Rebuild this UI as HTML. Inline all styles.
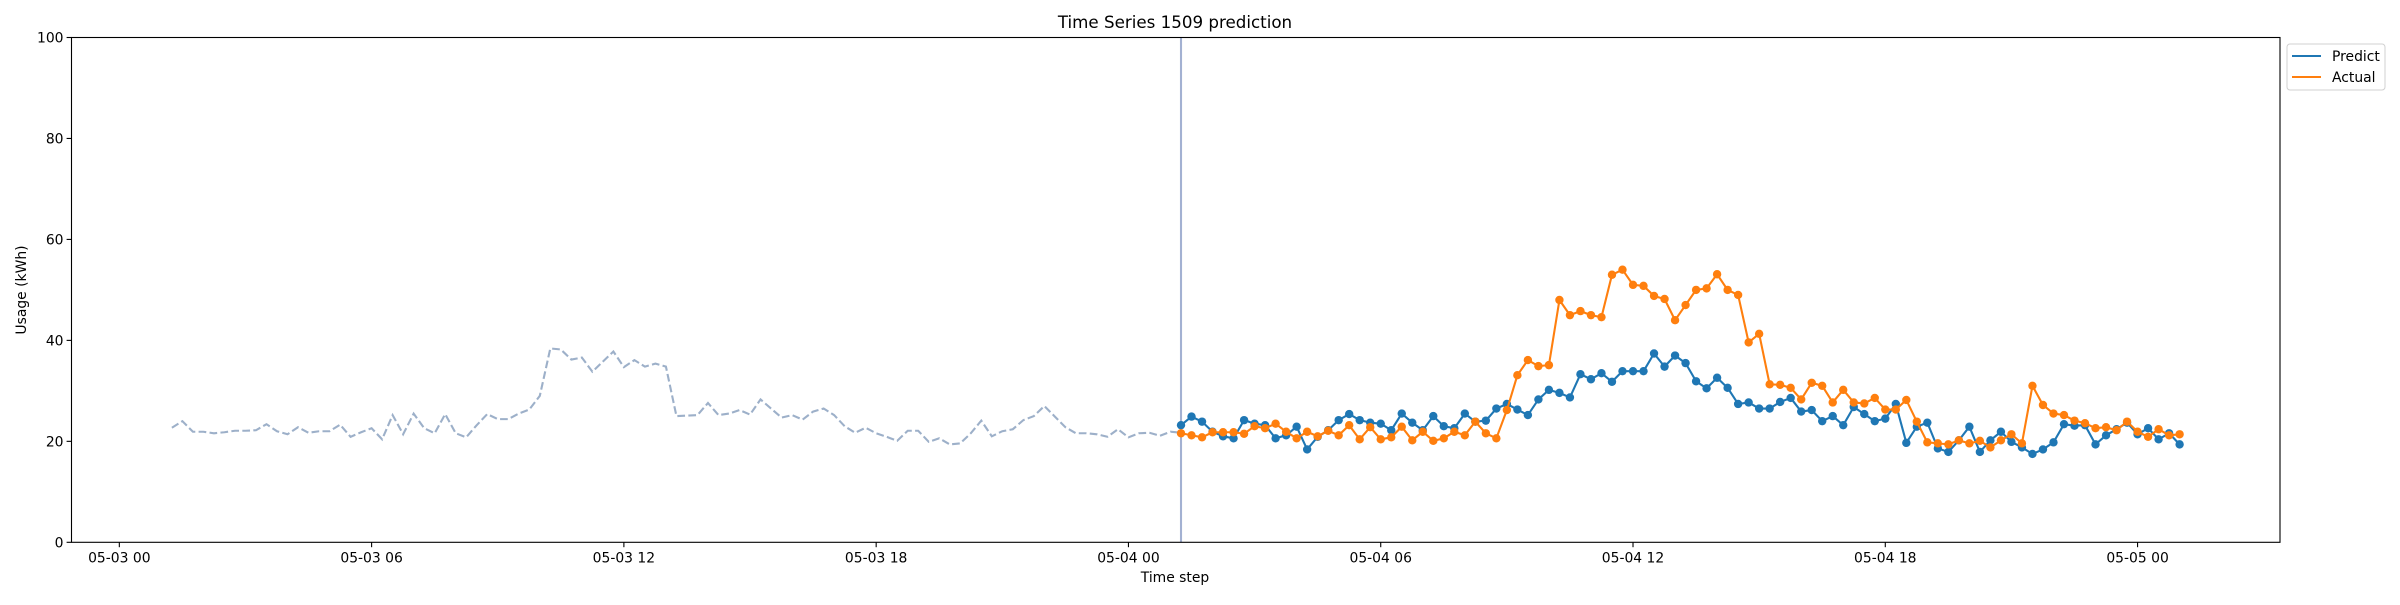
<!DOCTYPE html>
<html><head><meta charset="utf-8"><style>
html,body{margin:0;padding:0;background:#fff;}
svg text{font-family:"DejaVu Sans","Liberation Sans",sans-serif;fill:#000;}
</style></head><body>
<svg id="chart" width="2400" height="600" xmlns="http://www.w3.org/2000/svg">
<rect x="0" y="0" width="2400" height="600" fill="#fff"/>
<text x="1175" y="28" font-size="16.7" text-anchor="middle">Time Series 1509 prediction</text>
<text x="1175" y="582" font-size="13.9" text-anchor="middle">Time step</text>
<text x="26" y="290" font-size="13.9" text-anchor="middle" transform="rotate(-90 26 290)">Usage (kWh)</text>
<g id="plot"></g>
<g id="axes"></g>
<g>
<rect x="2287" y="44" width="98" height="46" rx="3" fill="#fff" stroke="#d0d0d0" stroke-width="1"/>
<line x1="2292" y1="56" x2="2321" y2="56" stroke="#1f77b4" stroke-width="2.1"/>
<text x="2332" y="61" font-size="13.9">Predict</text>
<line x1="2292" y1="77" x2="2321" y2="77" stroke="#ff7f0e" stroke-width="2.1"/>
<text x="2332" y="82" font-size="13.9">Actual</text>
</g>
</svg>
<script>
const historyValues=[22.7,24.0,21.9,21.9,21.6,21.8,22.1,22.1,22.2,23.4,22.0,21.4,22.8,21.7,22.0,22.0,23.3,20.9,21.8,22.6,20.4,25.2,21.4,25.5,22.6,21.6,25.4,21.6,20.8,23.2,25.4,24.4,24.4,
25.5,26.3,29.0,38.4,38.2,36.2,36.6,33.8,35.8,37.8,34.7,36.1,34.8,35.4,34.8,25.0,25.1,25.2,27.6,25.2,25.5,26.2,25.3,28.3,26.5,24.7,25.2,24.3,25.9,26.5,25.2,23.0,
21.7,22.7,21.6,20.9,20.1,22.1,22.1,19.9,20.6,19.4,19.6,21.6,24.1,21.0,22.0,22.4,24.2,25.0,27.0,24.9,22.8,21.6,21.6,21.4,20.9,22.4,20.8,21.6,21.7,21.1,21.9,21.7];
const predictValues=[23.2,24.9,23.9,21.9,21.0,20.6,24.2,23.5,23.2,20.6,21.2,22.9,18.4,20.9,22.2,24.2,25.4,24.2,23.7,23.5,22.2,25.5,23.7,22.2,25.0,
23.0,22.6,25.5,23.9,24.1,26.5,27.4,26.3,25.2,28.3,30.2,29.6,28.7,33.3,32.3,33.5,31.8,33.9,33.9,33.9,37.4,34.8,37.0,35.5,31.9,
30.5,32.6,30.6,27.4,27.7,26.5,26.5,27.8,28.6,25.9,26.2,24.0,25.0,23.2,26.8,25.4,24.0,24.5,27.4,19.7,22.9,23.7,18.6,17.9,
20.2,22.9,17.9,20.2,21.9,19.9,18.8,17.5,18.4,19.8,23.4,23.1,23.2,19.4,21.2,22.4,23.7,21.4,22.6,20.4,21.6,19.4];
const actualValues=[21.6,21.2,20.8,21.8,21.8,21.8,21.5,23.0,22.6,23.5,21.9,20.6,21.9,21.0,22.1,21.2,23.2,20.4,22.8,20.4,20.8,22.9,20.2,21.9,20.1,
20.6,21.9,21.2,23.9,21.6,20.6,26.2,33.1,36.1,34.9,35.1,48.0,45.0,45.8,45.0,44.6,53.0,54.0,51.0,50.8,48.8,48.2,44.0,47.0,50.0,
50.3,53.1,50.0,49.0,39.6,41.3,31.3,31.2,30.6,28.3,31.6,31.0,27.7,30.2,27.7,27.5,28.6,26.3,26.3,28.2,23.9,19.8,19.6,19.4,
20.2,19.6,20.1,18.8,20.2,21.4,19.6,31.0,27.2,25.5,25.2,24.1,23.6,22.6,22.8,22.2,23.9,21.9,20.9,22.4,21.2,21.4];
const historyStartHour=1.25;
const forecastStartHour=25.25;
const stepHours=0.25;
const xTickHours=[0,6,12,18,24,30,36,42,48];
const xTickLabels=["05-03 00","05-03 06","05-03 12","05-03 18","05-04 00","05-04 06","05-04 12","05-04 18","05-05 00"];
const yTickValues=[0,20,40,60,80,100];

const L=71.5,R=2280,T=37.5,B=542.3;
const xMin=-1.1375,xMax=51.3875,yMin=0,yMax=100;
const NS="http://www.w3.org/2000/svg";
function xs(h){return L+(h-xMin)/(xMax-xMin)*(R-L);}
function ys(v){return B-(v-yMin)/(yMax-yMin)*(B-T);}
function mk(tag,attrs,parent){const e=document.createElementNS(NS,tag);for(const k in attrs)e.setAttribute(k,attrs[k]);parent.appendChild(e);return e;}
const plot=document.getElementById('plot');
const axes=document.getElementById('axes');

function pts(vals,start){return vals.map((v,i)=>xs(start+i*stepHours).toFixed(2)+','+ys(v).toFixed(2)).join(' ');}

const hist=mk('polyline',{points:pts(historyValues,historyStartHour),fill:'none',stroke:'#9db0c9','stroke-width':2.1,'stroke-dasharray':'7.7,3.3'},plot);



const vline=mk('line',{x1:xs(forecastStartHour),x2:xs(forecastStartHour),y1:T,y2:B,stroke:'#a3b1d2','stroke-width':2.1},plot);



function series(vals,color,name){
  const g=mk('g',{},plot);
  
  
  const pl=mk('polyline',{points:pts(vals,forecastStartHour),fill:'none',stroke:color,'stroke-width':2.1,'stroke-linejoin':'round'},g);
  
  
  vals.forEach((v,i)=>{
    const c=mk('circle',{cx:xs(forecastStartHour+i*stepHours),cy:ys(v),r:4.2,fill:color},g);
    
    
  });
}
series(predictValues,'#1f77b4','predict');
series(actualValues,'#ff7f0e','actual');

const frame=mk('rect',{x:L,y:T,width:R-L,height:B-T,fill:'none',stroke:'#000','stroke-width':1.1},axes);



xTickHours.forEach((h,i)=>{
  const x=xs(h);
  const t=mk('line',{x1:x,x2:x,y1:B,y2:B+4.9,stroke:'#000','stroke-width':1.1},axes);
  
  
  const tx=mk('text',{x:x,y:B+20,'font-size':13.9,'text-anchor':'middle'},axes);
  tx.textContent=xTickLabels[i];
  
  
});
yTickValues.forEach(v=>{
  const y=ys(v);
  const t=mk('line',{x1:L-4.9,x2:L,y1:y,y2:y,stroke:'#000','stroke-width':1.1},axes);
  
  
  const tx=mk('text',{x:L-8,y:y+5,'font-size':13.9,'text-anchor':'end'},axes);
  tx.textContent=String(v);
  
  
});
</script>
</body></html>
